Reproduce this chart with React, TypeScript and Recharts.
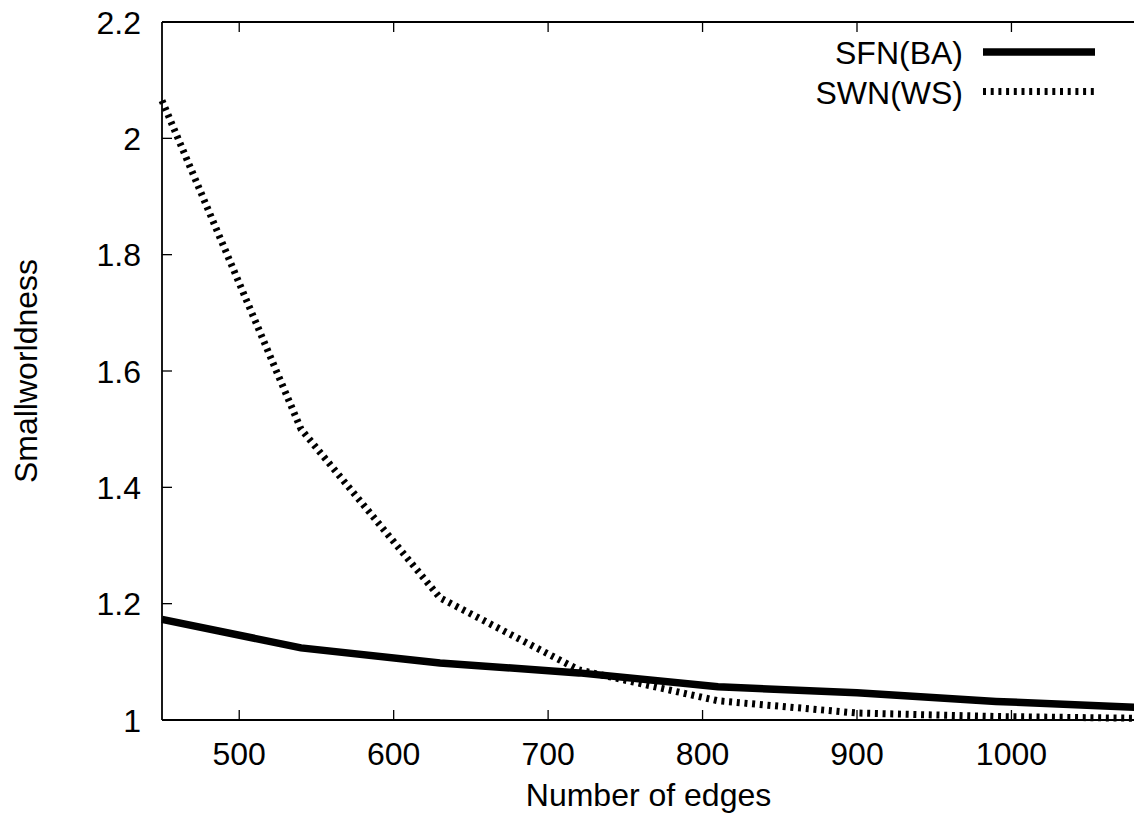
import React from 'react';
import { LineChart, Line, XAxis, YAxis, Legend } from 'recharts';

const edges = [450, 540, 630, 720, 810, 900, 990, 1080];
const sfnBA = [1.173, 1.124, 1.098, 1.081, 1.057, 1.047, 1.032, 1.022];
const swnWS = [2.065, 1.5, 1.21, 1.086, 1.033, 1.012, 1.006, 1.003];
const xTicks = [500, 600, 700, 800, 900, 1000];
const yTicks = [1, 1.2, 1.4, 1.6, 1.8, 2, 2.2];
const seriesNames = { sfn: 'SFN(BA)', swn: 'SWN(WS)' };
const xTitle = 'Number of edges';
const yTitle = 'Smallworldness';

const data = edges.map((e, i) => ({ edges: e, sfn: sfnBA[i], swn: swnWS[i] }));

const FONT = '"Liberation Sans", Arial, Helvetica, sans-serif';
const TICK_LEN = 10;

const lineStyles: Record<string, { strokeWidth: number; strokeDasharray?: string }> = {
  sfn: { strokeWidth: 7.5 },
  swn: { strokeWidth: 7, strokeDasharray: '3 4.7' },
};

const LegendContent = (props: any) => {
  const payload = props.payload || [];
  return (
    <svg width={320} height={90} style={{ display: 'block', overflow: 'visible' }}>
      {payload.map((p: any, i: number) => {
        const key = p.dataKey as string;
        const st = lineStyles[key] || { strokeWidth: 6 };
        const cy = 20 + i * 39.5;
        return (
          <g key={key}>
            <text x={163} y={cy + 12} textAnchor="end" fontSize={32} fontFamily={FONT} fill="#000">
              {p.value}
            </text>
            <line x1={183} x2={295} y1={cy} y2={cy} stroke="#000" strokeWidth={st.strokeWidth} strokeDasharray={st.strokeDasharray} />
          </g>
        );
      })}
    </svg>
  );
};

const BottomTick = (props: any) => {
  const { x, y, payload } = props;
  return (
    <g>
      <line x1={x} x2={x} y1={y} y2={y - TICK_LEN} stroke="#000" strokeWidth={1.3} />
      <text x={x} y={y + 45} textAnchor="middle" fontSize={32} fontFamily={FONT} fill="#000">
        {payload.value}
      </text>
    </g>
  );
};

const TopTick = (props: any) => {
  const { x, y } = props;
  return <line x1={x} x2={x} y1={y} y2={y + TICK_LEN} stroke="#000" strokeWidth={1.3} />;
};

const LeftTick = (props: any) => {
  const { x, y, payload } = props;
  return (
    <g>
      <line x1={x} x2={x + TICK_LEN} y1={y} y2={y} stroke="#000" strokeWidth={1.3} />
      <text x={x - 21} y={y + 11.5} textAnchor="end" fontSize={32} fontFamily={FONT} fill="#000">
        {payload.value}
      </text>
    </g>
  );
};

const RightTick = (props: any) => {
  const { x, y } = props;
  return <line x1={x} x2={x - TICK_LEN} y1={y} y2={y} stroke="#000" strokeWidth={1.3} />;
};

const XTitle = (props: any) => {
  const vb = props.viewBox || {};
  return (
    <text x={vb.x + vb.width / 2} y={806} textAnchor="middle" fontSize={32} fontFamily={FONT} fill="#000">
      {xTitle}
    </text>
  );
};

const YTitle = (props: any) => {
  const vb = props.viewBox || {};
  const cx = 37;
  const cy = vb.y + vb.height / 2;
  return (
    <text x={cx} y={cy} transform={`rotate(-90 ${cx} ${cy})`} textAnchor="middle" fontSize={32} fontFamily={FONT} fill="#000">
      {yTitle}
    </text>
  );
};

export default function App() {
  const axisLine = { stroke: '#000', strokeWidth: 1.8 };
  return (
    <div style={{ position: 'absolute', left: 0, top: 0, width: 1134, height: 826, overflow: 'hidden', background: '#fff' }}>
      <LineChart width={1136} height={826} data={data} margin={{ top: 21, right: 0, bottom: 0, left: 0 }} style={{ fontFamily: FONT }}>
        <XAxis
          xAxisId="bottom"
          dataKey="edges"
          type="number"
          domain={[450, 1080]}
          ticks={xTicks}
          height={106}
          tickSize={0}
          tickMargin={0}
          tick={<BottomTick />}
          axisLine={axisLine}
          tickLine={false}
          interval={0}
          label={<XTitle />}
        />
        <XAxis
          xAxisId="top"
          orientation="top"
          dataKey="edges"
          type="number"
          domain={[450, 1080]}
          ticks={xTicks}
          height={1}
          tickSize={0}
          tickMargin={0}
          tick={<TopTick />}
          axisLine={axisLine}
          tickLine={false}
          interval={0}
        />
        <YAxis
          yAxisId="left"
          type="number"
          domain={[1, 2.2]}
          ticks={yTicks}
          width={162}
          tickSize={0}
          tickMargin={0}
          tick={<LeftTick />}
          axisLine={axisLine}
          tickLine={false}
          interval={0}
          label={<YTitle />}
        />
        <YAxis
          yAxisId="right"
          orientation="right"
          type="number"
          domain={[1, 2.2]}
          ticks={yTicks}
          width={1}
          tickSize={0}
          tickMargin={0}
          tick={<RightTick />}
          axisLine={axisLine}
          tickLine={false}
          interval={0}
        />
        <Legend
          layout="vertical"
          align="center"
          verticalAlign="middle"
          content={<LegendContent />}
          wrapperStyle={{ position: 'absolute', left: 800, top: 32, width: 320, height: 90 }}
        />
        <Line
          xAxisId="bottom"
          yAxisId="left"
          type="linear"
          dataKey="sfn"
          name={seriesNames.sfn}
          stroke="#000"
          strokeWidth={lineStyles.sfn.strokeWidth}
          dot={false}
          activeDot={false}
          isAnimationActive={false}
        />
        <Line
          xAxisId="bottom"
          yAxisId="left"
          type="linear"
          dataKey="swn"
          name={seriesNames.swn}
          stroke="#000"
          strokeWidth={lineStyles.swn.strokeWidth}
          strokeDasharray={lineStyles.swn.strokeDasharray}
          dot={false}
          activeDot={false}
          isAnimationActive={false}
        />
      </LineChart>
    </div>
  );
}
